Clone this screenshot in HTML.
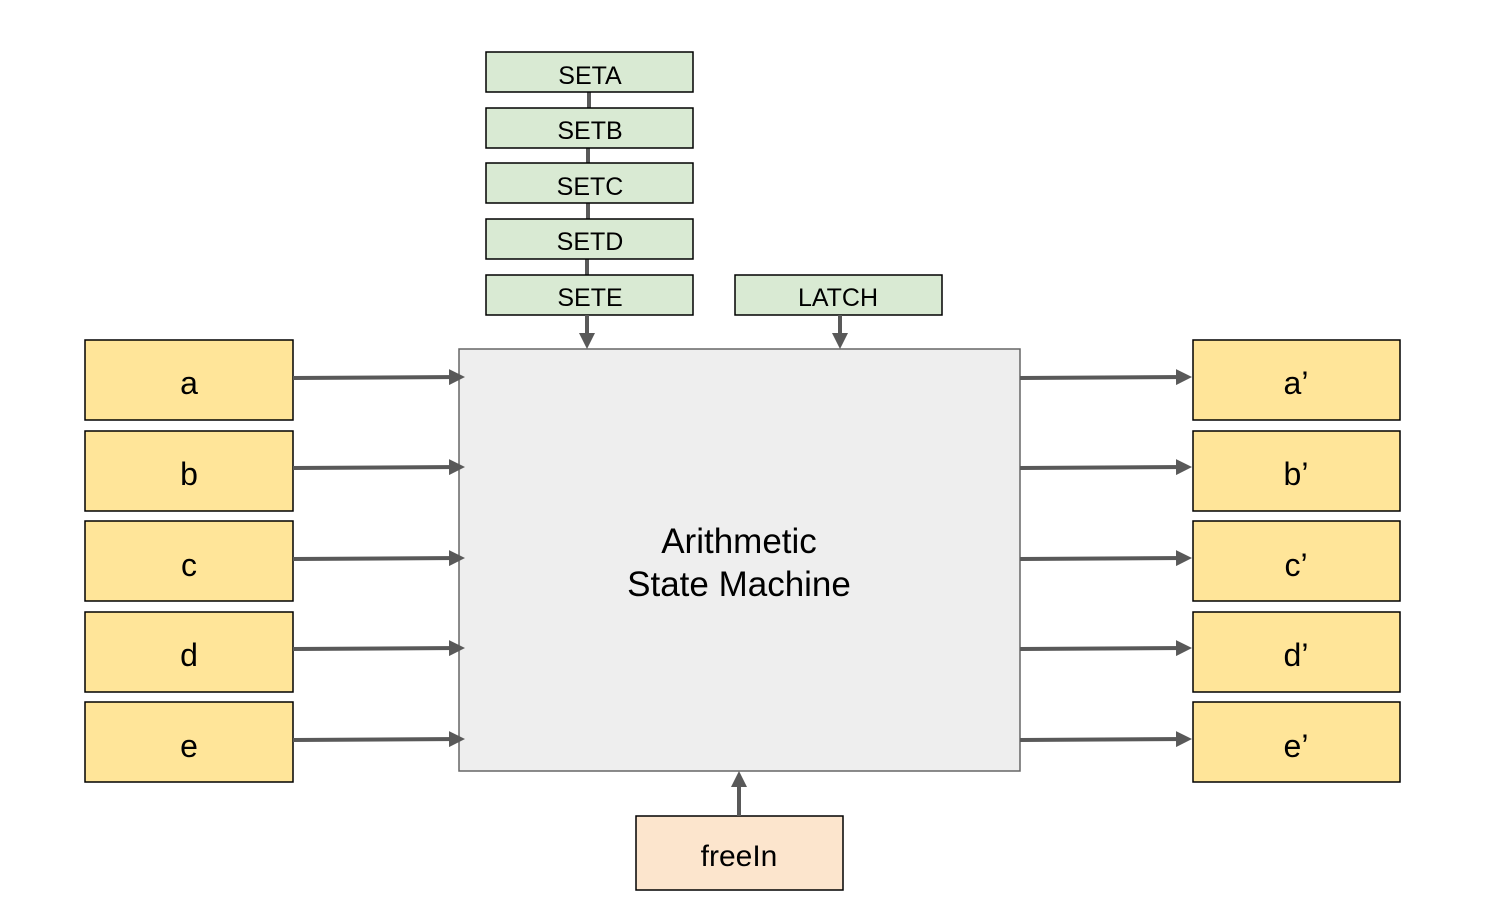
<!DOCTYPE html>
<html><head><style>body{margin:0;background:#fff}</style></head><body>
<svg width="1491" height="914" viewBox="0 0 1491 914" xmlns="http://www.w3.org/2000/svg" font-family="Liberation Sans, sans-serif">
<defs><marker id="ah" markerWidth="4" markerHeight="4" refX="3" refY="2" orient="auto" markerUnits="strokeWidth"><path d="M0,0 L4,2 L0,4 z" fill="#595959"/></marker></defs>
<g stroke="#595959" stroke-width="4">
<line x1="589" y1="92" x2="589" y2="108"/><line x1="588" y1="148" x2="588" y2="163"/><line x1="588" y1="203" x2="588" y2="219"/><line x1="587" y1="259" x2="587" y2="275"/>
</g>
<g stroke="#000" stroke-width="1.5" fill="#d9ead3">
<rect x="486" y="52" width="207" height="40"/><rect x="486" y="108" width="207" height="40"/><rect x="486" y="163" width="207" height="40"/><rect x="486" y="219" width="207" height="40"/><rect x="486" y="275" width="207" height="40"/><rect x="735" y="275" width="207" height="40"/>
</g>
<g font-size="25" text-anchor="middle" fill="#000">
<text x="590" y="84">SETA</text><text x="590" y="139">SETB</text><text x="590" y="195">SETC</text><text x="590" y="250">SETD</text><text x="590" y="306">SETE</text><text x="838" y="306">LATCH</text>
</g>
<rect x="459" y="349" width="561" height="422" fill="#eeeeee" stroke="#666" stroke-width="1.5"/>
<text x="739" y="553" font-size="35" text-anchor="middle">Arithmetic</text>
<text x="739" y="596" font-size="35" text-anchor="middle">State Machine</text>
<g stroke="#000" stroke-width="1.5" fill="#ffe599">
<rect x="85" y="340" width="208" height="80"/><rect x="85" y="431" width="208" height="80"/><rect x="85" y="521" width="208" height="80"/><rect x="85" y="612" width="208" height="80"/><rect x="85" y="702" width="208" height="80"/>
<rect x="1193" y="340" width="207" height="80"/><rect x="1193" y="431" width="207" height="80"/><rect x="1193" y="521" width="207" height="80"/><rect x="1193" y="612" width="207" height="80"/><rect x="1193" y="702" width="207" height="80"/>
</g>
<rect x="636" y="816" width="207" height="74" fill="#fce5cd" stroke="#000" stroke-width="1.5"/>
<g font-size="32" text-anchor="middle" fill="#000">
<text x="189" y="394">a</text><text x="189" y="485">b</text><text x="189" y="576">c</text><text x="189" y="666">d</text><text x="189" y="757">e</text>
<text x="1296" y="394">a’</text><text x="1296" y="485">b’</text><text x="1296" y="576">c’</text><text x="1296" y="666">d’</text><text x="1296" y="757">e’</text>
<text x="739" y="866" font-size="30">freeIn</text>
</g>
<g stroke="#595959" stroke-width="4" marker-end="url(#ah)">
<line x1="293" y1="378" x2="461" y2="377"/><line x1="293" y1="468" x2="461" y2="467"/><line x1="293" y1="559" x2="461" y2="558"/><line x1="293" y1="649" x2="461" y2="648"/><line x1="293" y1="740" x2="461" y2="739"/>
<line x1="1020" y1="378" x2="1188" y2="377"/><line x1="1020" y1="468" x2="1188" y2="467"/><line x1="1020" y1="559" x2="1188" y2="558"/><line x1="1020" y1="649" x2="1188" y2="648"/><line x1="1020" y1="740" x2="1188" y2="739"/>
<line x1="587" y1="315" x2="587" y2="345"/><line x1="840" y1="315" x2="840" y2="345"/>
<line x1="739" y1="816" x2="739" y2="775"/>
</g>
</svg>
</body></html>
